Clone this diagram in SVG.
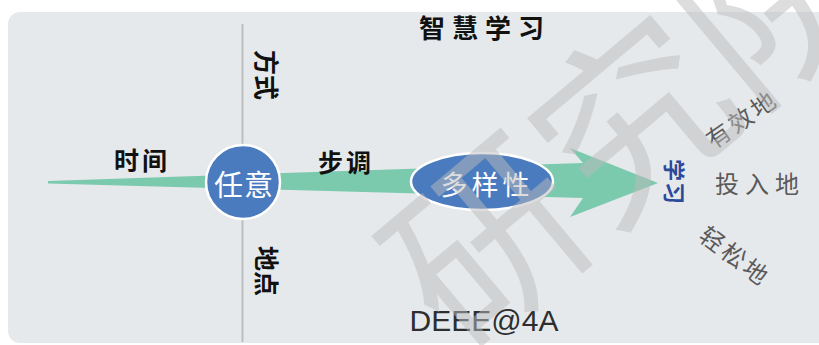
<svg xmlns="http://www.w3.org/2000/svg" width="819" height="345" viewBox="0 0 819 345">
<style>
.cjk{font-family:"Noto Sans CJK SC","Noto Sans",sans-serif;}
.lbl{font-size:25px;font-weight:bold;fill:#111;text-anchor:middle;dominant-baseline:central;}
.node{fill:#4b7bbf;stroke:#ffffff;stroke-width:2.5;}
.ntxt{fill:#ffffff;text-anchor:middle;dominant-baseline:central;}
.gray{font-size:24px;fill:#5a5a5a;text-anchor:middle;dominant-baseline:central;}
</style>
<rect width="819" height="345" fill="#ffffff"/>
<rect x="8" y="12" width="840" height="331" rx="12" fill="#e6e9ec"/>
<g id="connectors">
<line x1="242.5" y1="24" x2="242.5" y2="342" stroke="#bdbec0" stroke-width="2"/>
<polygon points="48,181 583,163 570,148 658,183 570,217 583,198 48,183.5" fill="#7ccaae"/>
</g>
<g id="title"><text class="cjk" x="485" y="26" font-size="26" font-weight="bold" fill="#111" text-anchor="middle" dominant-baseline="central" letter-spacing="7">智慧学习</text></g>
<g id="label-time"><text class="cjk lbl" x="142" y="159" letter-spacing="3">时间</text></g>
<g id="label-pace"><text class="cjk lbl" x="346" y="161" letter-spacing="3">步调</text></g>
<g id="label-way"><text class="cjk lbl" transform="translate(268,75) rotate(90)">方式</text></g>
<g id="label-place"><text class="cjk lbl" transform="translate(268,271) rotate(90)">地点</text></g>
<g id="node-renyi">
<circle class="node" cx="243" cy="182" r="37"/>
<text class="cjk ntxt" x="244" y="183" font-size="29" letter-spacing="1">任意</text>
</g>
<g id="node-duoyang">
<ellipse class="node" cx="482" cy="181.5" rx="71" ry="28.5"/>
<text class="cjk ntxt" x="487" y="183" font-size="27" letter-spacing="4">多样性</text>
</g>
<g id="node-xuexi"><text class="cjk" font-size="22" font-weight="bold" fill="#2b4a9b" text-anchor="middle" dominant-baseline="central" letter-spacing="1" transform="translate(676,182) rotate(90)">学习</text></g>
<g id="out-youxiao"><text class="cjk gray" letter-spacing="3" transform="translate(741,118) rotate(-35)">有效地</text></g>
<g id="out-touru"><text class="cjk gray" x="760" y="182" letter-spacing="6">投入地</text></g>
<g id="out-qingsong"><text class="cjk gray" letter-spacing="3" transform="translate(736,255) rotate(37)">轻松地</text></g>
<g id="footer"><text x="484" y="331" font-family="Liberation Sans, Arial, sans-serif" font-size="30" fill="#2e2e2e" text-anchor="middle">DEEE@4A</text></g>
<g id="watermark" opacity="0.5"><text class="cjk" font-size="190" fill="#bcbcbc" text-anchor="middle" dominant-baseline="central" transform="translate(625,110) rotate(-40)">研究院</text></g>
</svg>
